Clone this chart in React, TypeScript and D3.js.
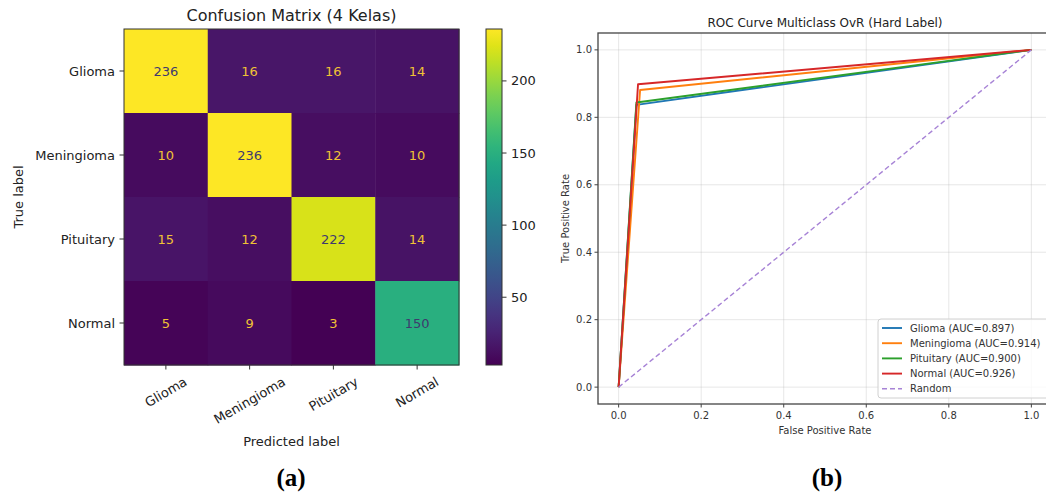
import React from "react";
import * as d3 from "d3";

const classes = ["Glioma", "Meningioma", "Pituitary", "Normal"];
const matrix = [
  [236, 16, 16, 14],
  [10, 236, 12, 10],
  [15, 12, 222, 14],
  [5, 9, 3, 150],
];
const colorbarTicks = [50, 100, 150, 200];

const rocNames = ["Glioma", "Meningioma", "Pituitary", "Normal"];
const rocAuc = ["0.897", "0.914", "0.900", "0.926"];
const rocFpr = [
  [0, 0.043, 1],
  [0, 0.052, 1],
  [0, 0.043, 1],
  [0, 0.047, 1],
];
const rocTpr = [
  [0, 0.837, 1],
  [0, 0.881, 1],
  [0, 0.844, 1],
  [0, 0.898, 1],
];
const rocColors = ["#1f77b4", "#ff7f0e", "#2ca02c", "#d62728"];
const randomLine = [0, 1];
const rocTicks = [0, 0.2, 0.4, 0.6, 0.8, 1.0];

const FONT = "DejaVu Sans, Verdana, sans-serif";

let ctx: CanvasRenderingContext2D | null = null;
function measure(text: string, size: number) {
  if (!ctx) ctx = document.createElement("canvas").getContext("2d");
  if (!ctx) return text.length * size * 0.6;
  ctx.font = `${size}px "DejaVu Sans"`;
  return ctx.measureText(text).width;
}

export default function App() {
  // ---- Confusion matrix ----
  const cmL = 124, cmR = 459, cmT = 29, cmB = 365;
  const xb = d3.scaleBand<string>().domain(classes).range([cmL, cmR]);
  const yb = d3.scaleBand<string>().domain(classes).range([cmT, cmB]);
  const flat = matrix.flat();
  const vmin = d3.min(flat) as number;
  const vmax = d3.max(flat) as number;
  const color = d3.scaleSequential(d3.interpolateViridis).domain([vmin, vmax]);
  const thresh = (vmin + vmax) / 2;
  const cbL = 486, cbR = 502;
  const cbY = d3.scaleLinear().domain([vmin, vmax]).range([cmB, cmT]);
  const gradStops = d3.range(0, 1.0001, 0.05);

  // ---- ROC ----
  const rx = d3.scaleLinear().domain([-0.05, 1.05]).range([598, 1052]);
  const ry = d3.scaleLinear().domain([-0.05, 1.05]).range([404, 33]);
  const line = d3
    .line<[number, number]>()
    .x((d) => rx(d[0]))
    .y((d) => ry(d[1]));

  const tickFs = 13;
  const rad = (30 * Math.PI) / 180;

  const legendItems = rocNames.map((n, i) => ({
    label: `${n} (AUC=${rocAuc[i]})`,
    color: rocColors[i],
    dash: false,
  }));
  legendItems.push({ label: "Random", color: "#a783d6", dash: true });

  return (
    <div style={{ position: "absolute", left: 0, top: 0 }}>
      <svg width={1046} height={494} style={{ display: "block", background: "#fff" }} fontFamily={FONT}>
        <defs>
          <linearGradient id="viridis" x1="0" y1="1" x2="0" y2="0">
            {gradStops.map((t) => (
              <stop key={t} offset={t} stopColor={d3.interpolateViridis(t)} />
            ))}
          </linearGradient>
        </defs>
        {/* Confusion matrix title */}
        <text x={(cmL + cmR) / 2} y={15} fontSize={16} textAnchor="middle" dominantBaseline="central" fill="#222">
          Confusion Matrix (4 Kelas)
        </text>
        {/* cells */}
        {matrix.map((row, i) =>
          row.map((v, j) => (
            <rect
              key={`${i}-${j}`}
              x={xb(classes[j])}
              y={yb(classes[i])}
              width={xb.bandwidth() + 0.5}
              height={yb.bandwidth() + 0.5}
              fill={color(v)}
            />
          ))
        )}
        {matrix.map((row, i) =>
          row.map((v, j) => (
            <text
              key={`t${i}-${j}`}
              x={(xb(classes[j]) as number) + xb.bandwidth() / 2}
              y={(yb(classes[i]) as number) + yb.bandwidth() / 2}
              fontSize={tickFs}
              textAnchor="middle"
              dominantBaseline="central"
              fill={v >= thresh ? "#3f3a6e" : "#f0c235"}
            >
              {v}
            </text>
          ))
        )}
        <rect x={cmL} y={cmT} width={cmR - cmL} height={cmB - cmT} fill="none" stroke="#333" strokeWidth={1} />
        {/* y ticks */}
        {classes.map((c) => {
          const cy = (yb(c) as number) + yb.bandwidth() / 2;
          return (
            <g key={`y${c}`}>
              <line x1={cmL - 4.5} x2={cmL} y1={cy} y2={cy} stroke="#333" strokeWidth={1} />
              <text x={cmL - 9} y={cy} fontSize={tickFs} textAnchor="end" dominantBaseline="central" fill="#222">
                {c}
              </text>
            </g>
          );
        })}
        {/* x ticks */}
        {classes.map((c) => {
          const cx = (xb(c) as number) + xb.bandwidth() / 2;
          const w = measure(c, tickFs);
          const h = w * Math.sin(rad) + tickFs * 1.17 * Math.cos(rad);
          const cy = cmB + 9 + h / 2;
          return (
            <g key={`x${c}`}>
              <line x1={cx} x2={cx} y1={cmB} y2={cmB + 4.5} stroke="#333" strokeWidth={1} />
              <text
                transform={`translate(${cx},${cy}) rotate(-30)`}
                fontSize={tickFs}
                textAnchor="middle"
                dominantBaseline="central"
                fill="#222"
              >
                {c}
              </text>
            </g>
          );
        })}
        <text x={(cmL + cmR) / 2} y={441} fontSize={tickFs} textAnchor="middle" dominantBaseline="central" fill="#222">
          Predicted label
        </text>
        <text
          transform={`translate(18,${(cmT + cmB) / 2}) rotate(-90)`}
          fontSize={tickFs}
          textAnchor="middle"
          dominantBaseline="central"
          fill="#222"
        >
          True label
        </text>
        {/* colorbar */}
        <rect x={cbL} y={cmT} width={cbR - cbL} height={cmB - cmT} fill="url(#viridis)" stroke="#333" strokeWidth={1} />
        {colorbarTicks.map((t) => (
          <g key={`cb${t}`}>
            <line x1={cbR} x2={cbR + 4.5} y1={cbY(t)} y2={cbY(t)} stroke="#333" strokeWidth={1} />
            <text x={cbR + 9} y={cbY(t)} fontSize={tickFs} dominantBaseline="central" fill="#222">
              {t}
            </text>
          </g>
        ))}

        {/* ROC */}
        <text x={(rx(-0.05) + rx(1.05)) / 2} y={23} fontSize={12} textAnchor="middle" dominantBaseline="central" fill="#222">
          ROC Curve Multiclass OvR (Hard Label)
        </text>
        {/* grid */}
        {rocTicks.map((t) => (
          <g key={`g${t}`}>
            <line x1={rx(t)} x2={rx(t)} y1={ry(-0.05)} y2={ry(1.05)} stroke="#b0b0b0" strokeOpacity={0.35} strokeWidth={0.9} />
            <line x1={rx(-0.05)} x2={rx(1.05)} y1={ry(t)} y2={ry(t)} stroke="#b0b0b0" strokeOpacity={0.35} strokeWidth={0.9} />
          </g>
        ))}
        {rocFpr.map((fx, i) => (
          <path
            key={`roc${i}`}
            d={line(fx.map((f, k) => [f, rocTpr[i][k]] as [number, number])) as string}
            fill="none"
            stroke={rocColors[i]}
            strokeWidth={1.9}
            strokeLinejoin="round"
          />
        ))}
        <path
          d={line(randomLine.map((v) => [v, v] as [number, number])) as string}
          fill="none"
          stroke="#a783d6"
          strokeWidth={1.4}
          strokeDasharray="5,3"
        />
        {/* spines */}
        <rect
          x={rx(-0.05)}
          y={ry(1.05)}
          width={rx(1.05) - rx(-0.05)}
          height={ry(-0.05) - ry(1.05)}
          fill="none"
          stroke="#444"
          strokeWidth={1.3}
        />
        {rocTicks.map((t) => (
          <g key={`rt${t}`}>
            <line x1={rx(t)} x2={rx(t)} y1={ry(-0.05)} y2={ry(-0.05) + 3.5} stroke="#444" strokeWidth={1} />
            <text x={rx(t)} y={415} fontSize={10} textAnchor="middle" dominantBaseline="central" fill="#333">
              {t.toFixed(1)}
            </text>
            <line x1={rx(-0.05) - 3.5} x2={rx(-0.05)} y1={ry(t)} y2={ry(t)} stroke="#444" strokeWidth={1} />
            <text x={592} y={ry(t)} fontSize={10} textAnchor="end" dominantBaseline="central" fill="#333">
              {t.toFixed(1)}
            </text>
          </g>
        ))}
        <text x={(rx(-0.05) + rx(1.05)) / 2} y={430} fontSize={10} textAnchor="middle" dominantBaseline="central" fill="#333">
          False Positive Rate
        </text>
        <text
          transform={`translate(565,${(ry(-0.05) + ry(1.05)) / 2}) rotate(-90)`}
          fontSize={10}
          textAnchor="middle"
          dominantBaseline="central"
          fill="#333"
        >
          True Positive Rate
        </text>
        {/* legend */}
        <rect x={878} y={319} width={171} height={79} rx={3} fill="#fff" fillOpacity={0.8} stroke="#d0d0d0" strokeWidth={1} />
        {legendItems.map((it, i) => {
          const y = 328 + i * 15.2;
          return (
            <g key={`lg${i}`}>
              <line
                x1={882}
                x2={902}
                y1={y}
                y2={y}
                stroke={it.color}
                strokeWidth={it.dash ? 1.4 : 1.9}
                strokeDasharray={it.dash ? "5,3" : undefined}
              />
              <text x={910} y={y} fontSize={10} dominantBaseline="central" fill="#333">
                {it.label}
              </text>
            </g>
          );
        })}

        {/* panel labels */}
        <text x={291} y={486} fontSize={25} fontWeight="bold" textAnchor="middle" fontFamily="Liberation Serif, Times New Roman, serif" fill="#000">
          (a)
        </text>
        <text x={827} y={486} fontSize={25} fontWeight="bold" textAnchor="middle" fontFamily="Liberation Serif, Times New Roman, serif" fill="#000">
          (b)
        </text>
      </svg>
    </div>
  );
}
